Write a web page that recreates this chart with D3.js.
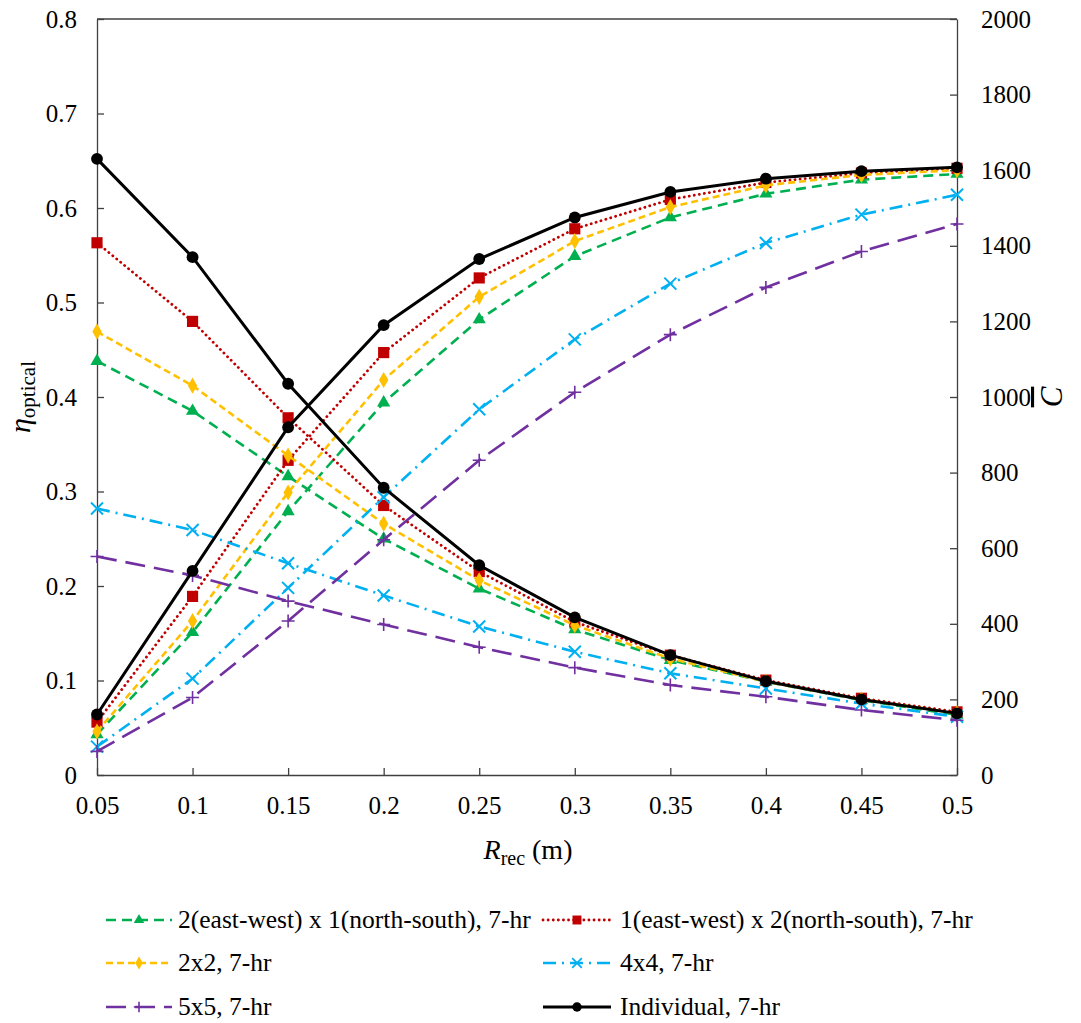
<!DOCTYPE html>
<html>
<head>
<meta charset="utf-8">
<script src="https://cdn.jsdelivr.net/npm/d3@7"></script>
<style>
  body { margin: 0; background: #fff; }
  svg { display: block; }
</style>
</head>
<body>
<svg id="chart" width="1081" height="1023" font-family="Liberation Serif"></svg>
<script>
// receiver radius (m)
const rrec = [0.05, 0.1, 0.15, 0.2, 0.25, 0.3, 0.35, 0.4, 0.45, 0.5];
const xTicks = [0.05, 0.1, 0.15, 0.2, 0.25, 0.3, 0.35, 0.4, 0.45, 0.5];
const yLeftTicks = [0, 0.1, 0.2, 0.3, 0.4, 0.5, 0.6, 0.7, 0.8];
const yRightTicks = [0, 200, 400, 600, 800, 1000, 1200, 1400, 1600, 1800, 2000];

// optical efficiency (left axis), rising curves
const effEW   = [0.043, 0.151, 0.279, 0.394, 0.482, 0.549, 0.590, 0.615, 0.630, 0.636];
const effNS   = [0.056, 0.189, 0.333, 0.447, 0.526, 0.578, 0.609, 0.627, 0.637, 0.642];
const eff2x2  = [0.046, 0.163, 0.299, 0.418, 0.506, 0.565, 0.601, 0.624, 0.635, 0.640];
const eff4x4  = [0.030, 0.102, 0.198, 0.294, 0.387, 0.461, 0.520, 0.563, 0.593, 0.614];
const eff5x5  = [0.025, 0.082, 0.163, 0.249, 0.333, 0.405, 0.466, 0.516, 0.554, 0.583];
const effInd  = [0.064, 0.216, 0.368, 0.476, 0.546, 0.590, 0.617, 0.631, 0.639, 0.643];

// mean concentration ratio (right axis), falling curves
const concEW  = [1095, 963, 790, 625, 493, 385, 304, 247, 198, 159];
const concNS  = [1408, 1200, 945, 713, 538, 405, 317, 251, 203, 167];
const conc2x2 = [1173, 1030, 845, 665, 515, 396, 308, 247, 200, 163];
const conc4x4 = [705, 648, 560, 475, 393, 326, 269, 229, 189, 154];
const conc5x5 = [578, 528, 460, 398, 338, 284, 238, 207, 172, 145];
const concInd = [1630, 1370, 1035, 760, 555, 417, 317, 248, 200, 163];

const labels = [
  "2(east-west) x 1(north-south), 7-hr",
  "1(east-west) x 2(north-south), 7-hr",
  "2x2, 7-hr",
  "4x4, 7-hr",
  "5x5, 7-hr",
  "Individual, 7-hr"
];

const series = [
  { eff: effEW,  conc: concEW,  color: '#00B050', dash: '10,6',       width: 2.6, marker: 'triangle' },
  { eff: effNS,  conc: concNS,  color: '#C00000', dash: '0.1,5',      width: 2.8, marker: 'square', cap: 'round' },
  { eff: eff2x2, conc: conc2x2, color: '#FFC000', dash: '7,4',        width: 2.6, marker: 'diamond' },
  { eff: eff4x4, conc: conc4x4, color: '#00B0F0', dash: '13,6,2,6',   width: 2.6, marker: 'x' },
  { eff: eff5x5, conc: conc5x5, color: '#7030A0', dash: '20,9',       width: 2.6, marker: 'plus' },
  { eff: effInd, conc: concInd, color: '#000000', dash: null,         width: 3,   marker: 'circle' }
];
series.forEach((s, i) => s.label = labels[i]);

const plotL = 97, plotR = 957, plotT = 19, plotB = 775;
const serif = 'Liberation Serif';
const svg = d3.select('#chart');

const x = d3.scaleLinear().domain([0.05, 0.5]).range([plotL, plotR]);
const yL = d3.scaleLinear().domain([0, 0.8]).range([plotB, plotT]);
const yR = d3.scaleLinear().domain([0, 2000]).range([plotB, plotT]);

// axes (ticks inside)
const axisCol = '#404040';
const fmt = d => String(d);
const gB = svg.append('g').attr('transform', `translate(0,${plotB})`)
  .call(d3.axisBottom(x).tickValues(xTicks).tickSizeInner(-7).tickSizeOuter(0).tickPadding(21).tickFormat(fmt));
const gL = svg.append('g').attr('transform', `translate(${plotL},0)`)
  .call(d3.axisLeft(yL).tickValues(yLeftTicks).tickSizeInner(-7).tickSizeOuter(0).tickPadding(20).tickFormat(fmt));
const gR = svg.append('g').attr('transform', `translate(${plotR},0)`)
  .call(d3.axisRight(yR).tickValues(yRightTicks).tickSizeInner(-7).tickSizeOuter(0).tickPadding(24).tickFormat(fmt));
[gB, gL, gR].forEach(g => {
  g.attr('font-family', serif).attr('font-size', 25);
  g.select('.domain').attr('stroke', axisCol).attr('stroke-width', 1.3);
  g.selectAll('.tick line').attr('stroke', axisCol).attr('stroke-width', 1.3);
  g.selectAll('.tick text').attr('font-size', 25).attr('font-family', serif).attr('fill', '#000');
});
// top border
svg.append('line').attr('x1', plotL).attr('x2', plotR).attr('y1', plotT).attr('y2', plotT)
  .attr('stroke', axisCol).attr('stroke-width', 1.3);

function drawMarker(g, type, color, cx, cy, scale) {
  scale = scale || 1;
  if (type === 'x') {
    const r = 6 * scale;
    g.append('path').attr('d', `M${cx - r},${cy - r}L${cx + r},${cy + r}M${cx - r},${cy + r}L${cx + r},${cy - r}`)
      .attr('stroke', color).attr('stroke-width', 2 * Math.min(1, scale + 0.1)).attr('fill', 'none');
  } else if (type === 'plus') {
    const r = 6.5 * scale;
    g.append('path').attr('d', `M${cx - r},${cy}L${cx + r},${cy}M${cx},${cy - r}L${cx},${cy + r}`)
      .attr('stroke', color).attr('stroke-width', 1.6).attr('fill', 'none');
  } else {
    const map = { triangle: [d3.symbolTriangle, 75], square: [d3.symbolSquare, 125], diamond: [d3.symbolDiamond, 75], circle: [d3.symbolCircle, 110] };
    const m = map[type];
    g.append('path').attr('d', d3.symbol().type(m[0]).size(m[1] * scale * scale)())
      .attr('transform', `translate(${cx},${cy})`).attr('fill', color);
  }
}

const line = d3.line().x(d => d[0]).y(d => d[1]);

series.forEach(s => {
  const g = svg.append('g');
  const ptsEff = rrec.map((r, i) => [x(r), yL(s.eff[i])]);
  const ptsConc = rrec.map((r, i) => [x(r), yR(s.conc[i])]);
  [ptsEff, ptsConc].forEach(pts => {
    g.append('path').attr('d', line(pts)).attr('fill', 'none')
      .attr('stroke', s.color).attr('stroke-width', s.width)
      .attr('stroke-dasharray', s.dash).attr('stroke-linecap', s.cap || 'butt');
    pts.forEach(p => drawMarker(g, s.marker, s.color, p[0], p[1]));
  });
});

// axis titles
svg.append('text').attr('x', 528).attr('y', 859).attr('text-anchor', 'middle').attr('font-size', 28)
  .attr('font-family', serif)
  .html('<tspan font-style="italic">R</tspan><tspan font-size="20" dy="6">rec</tspan><tspan dy="-6"> (m)</tspan>');
svg.append('text').attr('transform', 'translate(30,397) rotate(-90)').attr('text-anchor', 'middle').attr('font-size', 30)
  .attr('font-family', serif)
  .html('<tspan font-style="italic">η</tspan><tspan font-size="21" dy="5">optical</tspan>');
svg.append('text').attr('transform', 'translate(1062,397) rotate(-90)').attr('text-anchor', 'middle').attr('font-size', 31)
  .attr('font-family', serif)
  .attr('font-style', 'italic').style('text-decoration', 'overline').text('C');

// legend
const legRows = [920, 963, 1007];
const legSamples = [[106, 172], [543, 611]];
const legText = [178, 620];
series.forEach((s, i) => {
  const col = i % 2, ly = legRows[Math.floor(i / 2)];
  const x0 = legSamples[col][0], x1 = legSamples[col][1];
  const g = svg.append('g');
  g.append('line').attr('x1', x0).attr('x2', x1).attr('y1', ly).attr('y2', ly)
    .attr('stroke', s.color).attr('stroke-width', s.width)
    .attr('stroke-dasharray', s.dash).attr('stroke-linecap', s.cap || 'butt');
  drawMarker(g, s.marker, s.color, (x0 + x1) / 2, ly, 0.8);
  g.append('text').attr('x', legText[col]).attr('y', ly + 8).attr('font-size', 25.5)
    .attr('font-family', serif).attr('fill', '#000').text(s.label);
});
</script>
</body>
</html>
